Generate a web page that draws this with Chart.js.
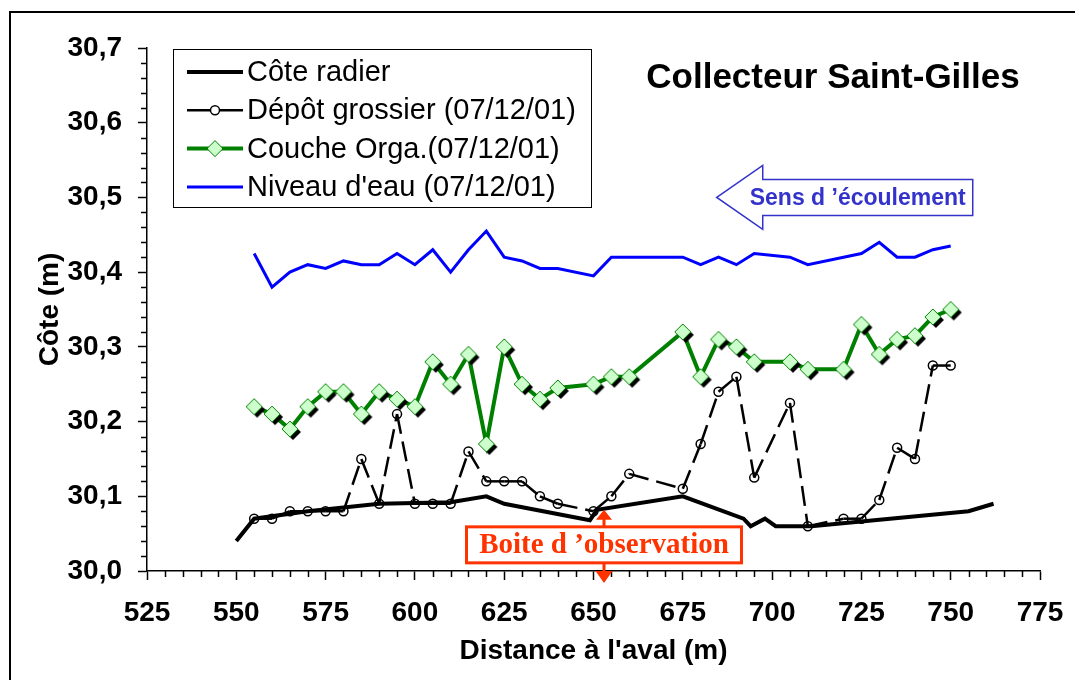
<!DOCTYPE html>
<html lang="fr">
<head>
<meta charset="utf-8">
<title>Collecteur Saint-Gilles</title>
<script src="https://cdn.jsdelivr.net/npm/chart.js@4.4.1/dist/chart.umd.min.js"></script>
<style>
  html, body { margin: 0; padding: 0; background: #fff; overflow: hidden; }
  #cadre { position: absolute; left: 9px; top: 11px; width: 1200px; height: 800px;
           border-left: 2px solid #000; border-top: 2px solid #000; }
  #zone { position: absolute; left: 0; top: 0; width: 1075px; height: 680px; }
</style>
</head>
<body>
<div id="cadre"></div>
<div id="zone"><canvas id="graphique"></canvas></div>
<script>
// Valeurs
const radierX = [550, 555, 570, 590, 610, 620, 625, 649, 651, 675, 692, 694, 698, 701, 711, 755, 762];
const radierY = [30.04, 30.07, 30.08, 30.09, 30.092, 30.10, 30.09, 30.068, 30.082, 30.10, 30.07, 30.06, 30.07, 30.06, 30.06, 30.08, 30.09];

// abscisses des relevés du 07/12/01 (dépôt grossier et couche orga)
const releveX = [555, 560, 565, 570, 575, 580, 585, 590, 595, 600, 605, 610, 615, 620, 625, 630, 635, 640,
                 650, 655, 660, 675, 680, 685, 690, 695, 705, 710, 720, 725, 730, 735, 740, 745, 750];
const depotY = [30.07, 30.07, 30.08, 30.08, 30.08, 30.08, 30.15, 30.09, 30.21, 30.09, 30.09, 30.09, 30.16, 30.12,
                30.12, 30.12, 30.10, 30.09, 30.08, 30.10, 30.13, 30.11, 30.17, 30.24, 30.26, 30.125, 30.225, 30.06,
                30.07, 30.07, 30.095, 30.165, 30.15, 30.275, 30.275];
const orgaY = [30.22, 30.21, 30.19, 30.22, 30.24, 30.24, 30.21, 30.24, 30.23, 30.22, 30.28, 30.25, 30.29, 30.17,
               30.30, 30.25, 30.23, 30.245, 30.25, 30.26, 30.26, 30.32, 30.26, 30.31, 30.30, 30.28, 30.28, 30.27,
               30.27, 30.33, 30.29, 30.31, 30.315, 30.34, 30.35];

const eauX = [555, 560, 565, 570, 575, 580, 585, 590, 595, 600, 605, 610, 615, 620, 625, 630, 635, 640, 650, 655,
              675, 680, 685, 690, 695, 705, 710, 725, 730, 735, 740, 745, 750];
const eauY = [30.425, 30.38, 30.40, 30.41, 30.405, 30.415, 30.41, 30.41, 30.425, 30.41, 30.43, 30.40, 30.43, 30.455,
              30.42, 30.415, 30.405, 30.405, 30.395, 30.42, 30.42, 30.41, 30.42, 30.41, 30.425, 30.42, 30.41, 30.425,
              30.44, 30.42, 30.42, 30.43, 30.435];

const series = ["Côte radier", "Dépôt grossier (07/12/01)", "Couche Orga.(07/12/01)", "Niveau d'eau (07/12/01)"];
const ticksX = [525, 550, 575, 600, 625, 650, 675, 700, 725, 750, 775];
const ticksY = [30.0, 30.1, 30.2, 30.3, 30.4, 30.5, 30.6, 30.7];

const police = "'Liberation Sans', Arial, sans-serif";

function points(xs, ys) {
  return xs.map((x, i) => ({ x: x, y: ys[i] }));
}

// losange vert clair avec ombre noire (marqueur Excel)
function creerLosange(r, decalage) {
  const taille = 2 * (r + decalage) + 4;
  const c = taille / 2;
  const cv = document.createElement("canvas");
  cv.width = taille;
  cv.height = taille;
  const g = cv.getContext("2d");
  function losange(cx, cy) {
    g.beginPath();
    g.moveTo(cx, cy - r);
    g.lineTo(cx + r, cy);
    g.lineTo(cx, cy + r);
    g.lineTo(cx - r, cy);
    g.closePath();
  }
  if (decalage) {
    losange(c + decalage, c + decalage);
    g.fillStyle = "#000";
    g.fill();
  }
  losange(c, c);
  g.fillStyle = "#ccffcc";
  g.fill();
  g.lineWidth = 1;
  g.strokeStyle = "#008000";
  g.stroke();
  return cv;
}

const losangeOmbre = creerLosange(8, 3);
const losangeLegende = creerLosange(8, 0);

// petites graduations, légende, titre et annotations
const habillage = {
  id: "habillage",
  afterDraw(chart) {
    const ctx = chart.ctx;
    const a = chart.chartArea;
    const sx = chart.scales.x;
    const sy = chart.scales.y;

    ctx.save();
    // graduations secondaires
    ctx.strokeStyle = "#000";
    ctx.lineWidth = 1.5;
    ctx.beginPath();
    for (let v = 525; v <= 775; v += 5) {
      if (v % 25 === 0) continue;
      const px = Math.round(sx.getPixelForValue(v)) + 0.5;
      ctx.moveTo(px, a.bottom);
      ctx.lineTo(px, a.bottom + 6);
    }
    for (let i = 0; i <= 35; i++) {
      if (i % 5 === 0) continue;
      const py = Math.round(sy.getPixelForValue(30 + i * 0.02)) + 0.5;
      ctx.moveTo(a.left - 6, py);
      ctx.lineTo(a.left, py);
    }
    ctx.stroke();

    // titre
    ctx.fillStyle = "#000";
    ctx.font = "bold 35px " + police;
    ctx.textAlign = "center";
    ctx.textBaseline = "middle";
    ctx.fillText("Collecteur Saint-Gilles", a.right - 207, a.top + 30);

    // légende
    const lx = a.left + 26, ly = a.top + 1, lw = 418, lh = 158;
    ctx.fillStyle = "#fff";
    ctx.fillRect(lx, ly, lw, lh);
    ctx.strokeStyle = "#000";
    ctx.lineWidth = 1;
    ctx.strokeRect(lx + 0.5, ly + 0.5, lw, lh);
    ctx.font = "29px " + police;
    ctx.textAlign = "left";
    chart.data.datasets.forEach((ds, i) => {
      const y = ly + 23 + i * 38.3;
      const x0 = lx + 14, x1 = lx + 70;
      ctx.strokeStyle = ds.borderColor;
      ctx.lineWidth = ds.borderWidth;
      ctx.beginPath();
      ctx.moveTo(x0, y);
      ctx.lineTo(x1, y);
      ctx.stroke();
      const xm = (x0 + x1) / 2;
      if (ds.legende === "cercle") {
        ctx.beginPath();
        ctx.arc(xm, y, 4.5, 0, Math.PI * 2);
        ctx.fillStyle = "#fff";
        ctx.fill();
        ctx.lineWidth = 1.5;
        ctx.stroke();
      } else if (ds.legende === "losange") {
        ctx.drawImage(losangeLegende, xm - losangeLegende.width / 2, y - losangeLegende.height / 2);
      }
      ctx.fillStyle = "#000";
      ctx.fillText(ds.label, x1 + 4, y + 1);
    });

    // flèche « Sens d'écoulement »
    const bleu = "#3333cc";
    const tx = sx.getPixelForValue(684.5);
    const ty = sy.getPixelForValue(30.5);
    const base = tx + 46, fin = tx + 256;
    ctx.beginPath();
    ctx.moveTo(tx, ty);
    ctx.lineTo(base, ty - 32);
    ctx.lineTo(base, ty - 18);
    ctx.lineTo(fin, ty - 18);
    ctx.lineTo(fin, ty + 18);
    ctx.lineTo(base, ty + 18);
    ctx.lineTo(base, ty + 32);
    ctx.closePath();
    ctx.fillStyle = "#fff";
    ctx.fill();
    ctx.strokeStyle = bleu;
    ctx.lineWidth = 1.5;
    ctx.stroke();
    ctx.fillStyle = bleu;
    ctx.font = "bold 23px " + police;
    ctx.textAlign = "center";
    ctx.fillText("Sens d \u2019écoulement", fin - 115, ty + 1);

    // « Boite d'observation »
    const rouge = "#ff3300";
    const bx = Math.round(sx.getPixelForValue(653));
    const by = sy.getPixelForValue(30.035);
    const bw = 275, bh = 36;
    const haut = sy.getPixelForValue(30.082);
    ctx.strokeStyle = rouge;
    ctx.fillStyle = rouge;
    ctx.lineWidth = 3;
    ctx.beginPath();
    ctx.moveTo(bx, by - bh / 2);
    ctx.lineTo(bx, haut + 9);
    ctx.moveTo(bx, by + bh / 2);
    ctx.lineTo(bx, a.bottom + 1);
    ctx.stroke();
    ctx.beginPath();
    ctx.moveTo(bx, haut);
    ctx.lineTo(bx + 8, haut + 10);
    ctx.lineTo(bx - 8, haut + 10);
    ctx.closePath();
    ctx.moveTo(bx, a.bottom + 12);
    ctx.lineTo(bx + 8.5, a.bottom);
    ctx.lineTo(bx - 8.5, a.bottom);
    ctx.closePath();
    ctx.fill();
    ctx.fillStyle = "#fff";
    ctx.fillRect(bx - bw / 2, by - bh / 2, bw, bh);
    ctx.strokeRect(bx - bw / 2, by - bh / 2, bw, bh);
    ctx.fillStyle = rouge;
    ctx.font = "bold 29px 'Liberation Serif', 'Times New Roman', serif";
    ctx.fillText("Boite d \u2019observation", bx, by + 1);
    ctx.restore();
  }
};

const grad = {
  display: true,
  drawOnChartArea: false,
  drawTicks: true,
  tickLength: 9,
  tickColor: "#000",
  tickWidth: 1.5
};

new Chart(document.getElementById("graphique"), {
  type: "line",
  data: {
    datasets: [
      {
        label: series[0],
        data: points(radierX, radierY),
        borderColor: "#000",
        borderWidth: 4,
        pointRadius: 0,
        legende: "ligne"
      },
      {
        label: series[1],
        data: points(releveX, depotY),
        borderColor: "#000",
        borderWidth: 2.5,
        borderDash: [20, 8],
        // le tiret recommence à chaque segment, comme dans Excel
        segment: { borderDashOffset: ctx => (ctx.p0DataIndex % 2 ? 0.001 : 0) },
        pointStyle: "circle",
        pointRadius: 4.5,
        pointBorderWidth: 1.5,
        pointBorderColor: "#000",
        pointBackgroundColor: "rgba(0,0,0,0)",
        legende: "cercle"
      },
      {
        label: series[2],
        data: points(releveX, orgaY),
        borderColor: "#008000",
        borderWidth: 4,
        pointStyle: losangeOmbre,
        pointRadius: 8,
        legende: "losange"
      },
      {
        label: series[3],
        data: points(eauX, eauY),
        borderColor: "#0000ff",
        borderWidth: 3,
        pointRadius: 0,
        legende: "ligne"
      }
    ]
  },
  options: {
    responsive: true,
    maintainAspectRatio: false,
    animation: false,
    layout: { padding: { left: 31, top: 48, right: 35, bottom: 12 } },
    plugins: {
      legend: { display: false },
      tooltip: { enabled: false }
    },
    scales: {
      x: {
        type: "linear",
        min: 525,
        max: 775,
        afterBuildTicks: s => { s.ticks = ticksX.map(v => ({ value: v })); },
        afterFit: s => {
          s.height = 97;
          s.paddingLeft = 20;
          s.paddingRight = 20;
        },
        ticks: {
          color: "#000",
          font: { family: police, size: 28, weight: "bold" },
          padding: 16,
          maxRotation: 0,
          autoSkip: false
        },
        grid: grad,
        border: { color: "#000", width: 1.5 },
        title: {
          display: true,
          text: "Distance à l'aval (m)",
          color: "#000",
          font: { family: police, size: 28, weight: "bold" },
          padding: 0
        }
      },
      y: {
        min: 30.0,
        max: 30.7,
        afterBuildTicks: s => { s.ticks = ticksY.map(v => ({ value: v })); },
        afterFit: s => { s.width = 116; },
        ticks: {
          color: "#000",
          font: { family: police, size: 28, weight: "bold" },
          padding: 16,
          callback: v => v.toFixed(1).replace(".", ",")
        },
        grid: grad,
        border: { color: "#000", width: 1.5 },
        title: {
          display: true,
          text: "Côte (m)",
          color: "#000",
          font: { family: police, size: 28, weight: "bold" },
          padding: 2
        }
      }
    }
  },
  plugins: [habillage]
});
</script>
</body>
</html>
